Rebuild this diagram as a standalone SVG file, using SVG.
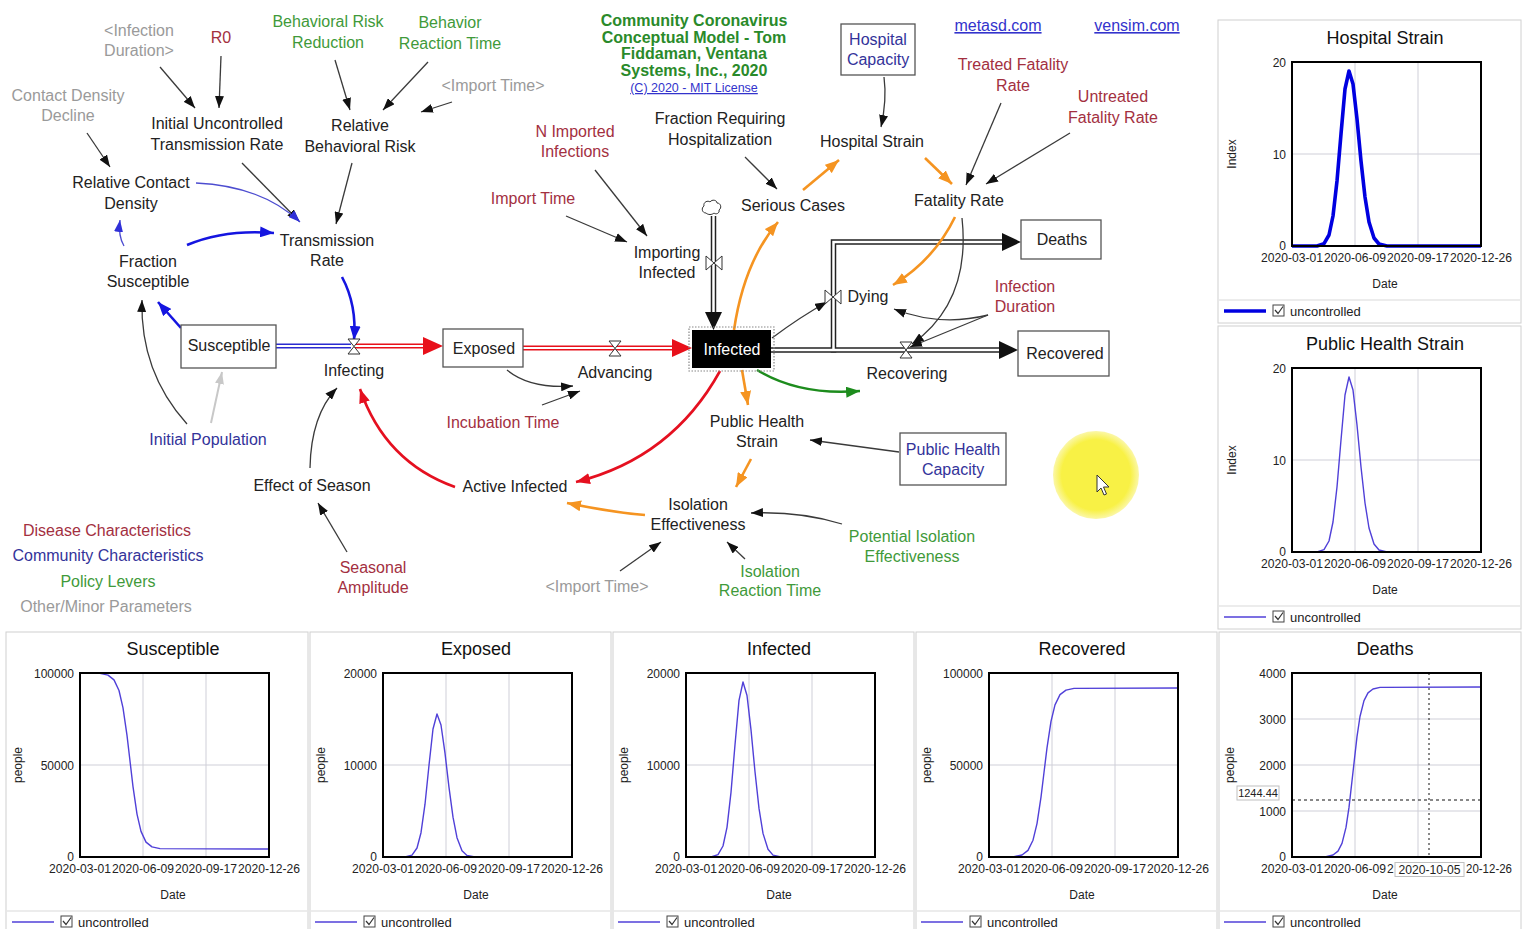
<svg xmlns="http://www.w3.org/2000/svg" width="1527" height="929" viewBox="0 0 1527 929">
<style>
text{font-family:"Liberation Sans",Arial,Helvetica,sans-serif}
.t{font-size:16px;fill:#222;text-anchor:middle}
.red{fill:#a3303f}
.grn{fill:#3f9a3a}
.blu{fill:#33339a}
.gry{fill:#9a9a9a}
.ttl{font-size:16px;font-weight:bold;fill:#2a8a2a;text-anchor:middle}
.lnk{fill:#3333cc;text-decoration:underline}
.box{fill:#fff;stroke:#555;stroke-width:1.3}
.ln{fill:none;stroke:#3a3a3a;stroke-width:1.3}
.lnb{fill:none;stroke:#1515e0;stroke-width:2.6}
.lnbt{fill:none;stroke:#4d4dd0;stroke-width:1.3}
.lnr{fill:none;stroke:#e51020;stroke-width:2.6}
.lno{fill:none;stroke:#f59421;stroke-width:2.6}
.lng{fill:none;stroke:#1d8c1d;stroke-width:2.4}
.lnl{fill:none;stroke:#c8c8c8;stroke-width:2}
.valve{fill:#fff;stroke:#333;stroke-width:1}
.panel{fill:#fff;stroke:#d0d0d0;stroke-width:1}
.sep{stroke:#e6e6e6;stroke-width:1.5}
.grid line{stroke:#cfcfd8;stroke-width:1}
.plot{fill:none;stroke:#000;stroke-width:2}
.cv{fill:none;stroke:#5040d8;stroke-width:1.4;stroke-linejoin:round}
.cvb{fill:none;stroke:#0000e0;stroke-width:3.6;stroke-linejoin:round}
.ctitle{font-size:18px;fill:#111;text-anchor:middle}
.ytk{font-size:12px;fill:#222;text-anchor:end}
.xtk{font-size:12px;fill:#222;text-anchor:middle}
.axl{font-size:12px;fill:#222;text-anchor:middle}
.lgt{font-size:13px;fill:#222}
.cb{fill:#fff;stroke:#444;stroke-width:1}
.ck{fill:none;stroke:#333;stroke-width:1.2}
</style>
<defs>
<marker id="ak" viewBox="0 0 12 9" refX="12" refY="4.5" markerWidth="12" markerHeight="9" markerUnits="userSpaceOnUse" orient="auto"><path d="M0,0L12,4.5L0,9z" fill="#111"/></marker>
<marker id="ab" viewBox="0 0 14 11" refX="14" refY="5.5" markerWidth="14" markerHeight="11" markerUnits="userSpaceOnUse" orient="auto"><path d="M0,0L14,5.5L0,11z" fill="#1515e0"/></marker>
<marker id="abt" viewBox="0 0 12 9" refX="12" refY="4.5" markerWidth="12" markerHeight="9" markerUnits="userSpaceOnUse" orient="auto"><path d="M0,0L12,4.5L0,9z" fill="#3030d8"/></marker>
<marker id="ar" viewBox="0 0 14 11" refX="14" refY="5.5" markerWidth="14" markerHeight="11" markerUnits="userSpaceOnUse" orient="auto"><path d="M0,0L14,5.5L0,11z" fill="#e51020"/></marker>
<marker id="ao" viewBox="0 0 14 11" refX="14" refY="5.5" markerWidth="14" markerHeight="11" markerUnits="userSpaceOnUse" orient="auto"><path d="M0,0L14,5.5L0,11z" fill="#f59421"/></marker>
<marker id="ag" viewBox="0 0 14 11" refX="14" refY="5.5" markerWidth="14" markerHeight="11" markerUnits="userSpaceOnUse" orient="auto"><path d="M0,0L14,5.5L0,11z" fill="#1d8c1d"/></marker>
<marker id="al" viewBox="0 0 12 9" refX="12" refY="4.5" markerWidth="12" markerHeight="9" markerUnits="userSpaceOnUse" orient="auto"><path d="M0,0L12,4.5L0,9z" fill="#c8c8c8"/></marker>
<radialGradient id="yel" cx="0.5" cy="0.5" r="0.5"><stop offset="0.8" stop-color="#f8f145"/><stop offset="1" stop-color="#fbf7a8"/></radialGradient>
</defs>
<rect x="0" y="0" width="1527" height="929" fill="#fff"/>

<!-- flows (pipes) -->
<g id="flows">
  <line x1="276" y1="346" x2="351" y2="346" stroke="#2a2ad0" stroke-width="5"/>
  <line x1="276" y1="346" x2="351" y2="346" stroke="#fff" stroke-width="2.2"/>
  <line x1="354" y1="346" x2="428" y2="346" stroke="#e8101a" stroke-width="5"/>
  <line x1="354" y1="346" x2="428" y2="346" stroke="#fff" stroke-width="2.2"/>
  <polygon points="423,337 443,346 423,355" fill="#e8101a"/>
  <line x1="523" y1="348" x2="677" y2="348" stroke="#e8101a" stroke-width="5"/>
  <line x1="523" y1="348" x2="677" y2="348" stroke="#fff" stroke-width="2.2"/>
  <polygon points="672,339 692,348 672,357" fill="#e8101a"/>
  <line x1="713.5" y1="216" x2="713.5" y2="314" stroke="#222" stroke-width="5.5"/>
  <line x1="713.5" y1="216" x2="713.5" y2="314" stroke="#fff" stroke-width="2.5"/>
  <polygon points="705,312 713.5,330 722,312" fill="#111"/>
  <line x1="771" y1="350" x2="1003" y2="350" stroke="#222" stroke-width="5.5"/>
  <path d="M833.5,352.5 V242 H1006" fill="none" stroke="#222" stroke-width="5.5"/>
  <line x1="771" y1="350" x2="1003" y2="350" stroke="#fff" stroke-width="2.5"/>
  <path d="M833.5,350 V242 H1006" fill="none" stroke="#fff" stroke-width="2.5"/>
  <polygon points="999,341 1018,350 999,359" fill="#111"/>
  <polygon points="1002,233 1021,242 1002,251" fill="#111"/>
  <path d="M706,213 c-4,0 -5,-5 -2,-7 c-1,-4 4,-6 6,-4 c2,-3 7,-2 7,1 c4,0 5,5 2,7 c1,3 -3,5 -5,3 c-2,2 -6,2 -8,0z" fill="#fff" stroke="#333" stroke-width="1"/>
</g>

<!-- connectors -->
<g id="connectors">
  <path class="ln" d="M160,67 L195,108" marker-end="url(#ak)"/>
  <path class="ln" d="M221,56 L219,108" marker-end="url(#ak)"/>
  <path class="ln" d="M87,133 L110,167" marker-end="url(#ak)"/>
  <path class="ln" d="M242,163 L299,221" marker-end="url(#ak)"/>
  <path class="lnbt" d="M196,183 Q262,186 300,222" marker-end="url(#abt)"/>
  <path class="ln" d="M335,60 L350,110" marker-end="url(#ak)"/>
  <path class="ln" d="M428,62 L383,110" marker-end="url(#ak)"/>
  <path class="ln" d="M452,102 L421,112" marker-end="url(#ak)"/>
  <path class="ln" d="M352,163 L336,224" marker-end="url(#ak)"/>
  <path class="lnbt" d="M124,246 Q118,236 120,220" stroke-width="1.6" marker-end="url(#abt)"/>
  <path class="lnb" d="M187,245 Q225,229 274,233" marker-end="url(#ab)"/>
  <path class="lnb" d="M181,328 L158,302" marker-end="url(#ab)"/>
  <path class="lnb" d="M342,277 Q357,305 354,340" marker-end="url(#ab)"/>
  <path class="ln" d="M187,424 Q140,372 142,300" marker-end="url(#ak)"/>
  <path class="lnl" d="M211,423 L222,372" marker-end="url(#al)"/>
  <path class="ln" d="M310,468 Q311,415 337,388" marker-end="url(#ak)"/>
  <path class="ln" d="M347,552 L318,503" marker-end="url(#ak)"/>
  <path class="lnr" d="M455,487 Q385,462 360,389" marker-end="url(#ar)"/>
  <path class="lnr" d="M720,371 Q672,458 576,482" stroke-width="2.2" marker-end="url(#ar)"/>
  <path class="ln" d="M507,370 Q530,389 573,386" marker-end="url(#ak)"/>
  <path class="ln" d="M542,405 L580,391" marker-end="url(#ak)"/>
  <path class="ln" d="M566,216 L627,242" marker-end="url(#ak)"/>
  <path class="ln" d="M595,170 L647,236" marker-end="url(#ak)"/>
  <path class="lno" d="M734,330 Q744,262 778,222" marker-end="url(#ao)"/>
  <path class="ln" d="M745,157 L777,189" marker-end="url(#ak)"/>
  <path class="lno" d="M803,190 L839,160" marker-end="url(#ao)"/>
  <path class="ln" d="M884,77 Q887,100 881,127" marker-end="url(#ak)"/>
  <path class="lno" d="M925,158 L952,184" marker-end="url(#ao)"/>
  <path class="ln" d="M1001,103 L966,185" marker-end="url(#ak)"/>
  <path class="ln" d="M1070,133 L986,184" marker-end="url(#ak)"/>
  <path class="lno" d="M955,217 Q934,260 893,285" marker-end="url(#ao)"/>
  <path class="ln" d="M962,218 Q971,302 912,344" marker-end="url(#ak)"/>
  <path class="ln" d="M988,315 Q940,327 894,309" marker-end="url(#ak)"/>
  <path class="ln" d="M988,315 L910,347" marker-end="url(#ak)"/>
  <path class="ln" d="M772,338 Q800,317 827,302" marker-end="url(#ak)"/>
  <path class="lng" d="M757,370 Q800,396 860,391" marker-end="url(#ag)"/>
  <path class="lno" d="M742,370 L748,405" marker-end="url(#ao)"/>
  <path class="ln" d="M899,452 L810,440" marker-end="url(#ak)"/>
  <path class="lno" d="M751,459 L736,487" marker-end="url(#ao)"/>
  <path class="lno" d="M645,515 Q610,512 567,503" marker-end="url(#ao)"/>
  <path class="ln" d="M842,524 Q800,511 751,513" marker-end="url(#ak)"/>
  <path class="ln" d="M620,571 L661,542" marker-end="url(#ak)"/>
  <path class="ln" d="M745,559 L727,542" marker-end="url(#ak)"/>
</g>

<!-- valves -->
<g id="infecting"><polygon class="valve" points="348,339 360,339 354,346.5 360,354 348,354 354,346.5"/><text class="t" x="354" y="376">Infecting</text></g>
<g id="advancing"><polygon class="valve" points="609,341 621,341 615,348.5 621,356 609,356 615,348.5"/><text class="t" x="615" y="378">Advancing</text></g>
<g id="recovering"><polygon class="valve" points="900,342 912,342 906,350 912,358 900,358 906,350"/><text class="t" x="907" y="379">Recovering</text></g>
<g id="importing-infected"><polygon class="valve" points="706,256 714,263 722,256 722,270 714,263 706,270"/><text class="t"><tspan x="667" y="258">Importing</tspan><tspan x="667" y="278">Infected</tspan></text></g>
<g id="dying"><polygon class="valve" points="825,290 833,297 841,290 841,304 833,297 825,304"/><text class="t" x="868" y="302">Dying</text></g>

<!-- stocks -->
<g id="susceptible"><rect class="box" x="181" y="325" width="95" height="43"/><text class="t" x="229" y="351">Susceptible</text></g>
<g id="exposed"><rect class="box" x="443" y="329" width="80" height="38"/><text class="t" x="484" y="354">Exposed</text></g>
<g id="infected"><rect x="689" y="327" width="85" height="44" fill="none" stroke="#888" stroke-width="1.2" stroke-dasharray="1.5,1.5"/><rect x="692" y="330" width="79" height="38" fill="#000"/><text class="t" x="732" y="355" style="fill:#fff">Infected</text></g>
<g id="deaths"><rect class="box" x="1021" y="220" width="80" height="39"/><text class="t" x="1062" y="245">Deaths</text></g>
<g id="recovered"><rect class="box" x="1018" y="331" width="91" height="45"/><text class="t" x="1065" y="359">Recovered</text></g>

<!-- variables -->
<g id="infection-duration-shadow"><text class="t gry"><tspan x="139" y="36">&lt;Infection</tspan><tspan x="139" y="56">Duration&gt;</tspan></text></g>
<g id="r0"><text class="t red" x="221" y="43">R0</text></g>
<g id="behavioral-risk-reduction"><text class="t grn"><tspan x="328" y="27">Behavioral Risk</tspan><tspan x="328" y="48">Reduction</tspan></text></g>
<g id="behavior-reaction-time"><text class="t grn"><tspan x="450" y="28">Behavior</tspan><tspan x="450" y="49">Reaction Time</tspan></text></g>
<g id="import-time-shadow-1"><text class="t gry" x="493" y="91">&lt;Import Time&gt;</text></g>
<g id="contact-density-decline"><text class="t gry"><tspan x="68" y="101">Contact Density</tspan><tspan x="68" y="121">Decline</tspan></text></g>
<g id="initial-uncontrolled-transmission-rate"><text class="t"><tspan x="217" y="129">Initial Uncontrolled</tspan><tspan x="217" y="150">Transmission Rate</tspan></text></g>
<g id="relative-behavioral-risk"><text class="t"><tspan x="360" y="131">Relative</tspan><tspan x="360" y="152">Behavioral Risk</tspan></text></g>
<g id="relative-contact-density"><text class="t"><tspan x="131" y="188">Relative Contact</tspan><tspan x="131" y="209">Density</tspan></text></g>
<g id="fraction-susceptible"><text class="t"><tspan x="148" y="267">Fraction</tspan><tspan x="148" y="287">Susceptible</tspan></text></g>
<g id="transmission-rate"><text class="t"><tspan x="327" y="246">Transmission</tspan><tspan x="327" y="266">Rate</tspan></text></g>
<g id="incubation-time"><text class="t red" x="503" y="428">Incubation Time</text></g>
<g id="initial-population"><text class="t blu" x="208" y="445">Initial Population</text></g>
<g id="effect-of-season"><text class="t" x="312" y="491">Effect of Season</text></g>
<g id="active-infected"><text class="t" x="515" y="492">Active Infected</text></g>
<g id="seasonal-amplitude"><text class="t red"><tspan x="373" y="573">Seasonal</tspan><tspan x="373" y="593">Amplitude</tspan></text></g>
<g id="legend">
  <text class="t red" x="107" y="536">Disease Characteristics</text>
  <text class="t blu" x="108" y="561">Community Characteristics</text>
  <text class="t grn" x="108" y="587">Policy Levers</text>
  <text class="t gry" x="106" y="612">Other/Minor Parameters</text>
</g>
<g id="title"><text class="ttl"><tspan x="694" y="26">Community Coronavirus</tspan><tspan x="694" y="43">Conceptual Model - Tom</tspan><tspan x="694" y="59">Fiddaman, Ventana</tspan><tspan x="694" y="76">Systems, Inc., 2020</tspan></text>
<text class="lnk" x="694" y="92" font-size="12.5" text-anchor="middle">(C) 2020 - MIT License</text></g>
<g id="links"><text class="t lnk" x="998" y="31">metasd.com</text><text class="t lnk" x="1137" y="31">vensim.com</text></g>
<g id="n-imported-infections"><text class="t red"><tspan x="575" y="137">N Imported</tspan><tspan x="575" y="157">Infections</tspan></text></g>
<g id="fraction-requiring-hospitalization"><text class="t"><tspan x="720" y="124">Fraction Requiring</tspan><tspan x="720" y="145">Hospitalization</tspan></text></g>
<g id="hospital-strain"><text class="t" x="872" y="147">Hospital Strain</text></g>
<g id="hospital-capacity"><rect class="box" x="841" y="24" width="74" height="51"/><text class="t blu"><tspan x="878" y="45">Hospital</tspan><tspan x="878" y="65">Capacity</tspan></text></g>
<g id="treated-fatality-rate"><text class="t red"><tspan x="1013" y="70">Treated Fatality</tspan><tspan x="1013" y="91">Rate</tspan></text></g>
<g id="untreated-fatality-rate"><text class="t red"><tspan x="1113" y="102">Untreated</tspan><tspan x="1113" y="123">Fatality Rate</tspan></text></g>
<g id="import-time"><text class="t red" x="533" y="204">Import Time</text></g>
<g id="serious-cases"><text class="t" x="793" y="211">Serious Cases</text></g>
<g id="fatality-rate"><text class="t" x="959" y="206">Fatality Rate</text></g>
<g id="infection-duration"><text class="t red"><tspan x="1025" y="292">Infection</tspan><tspan x="1025" y="312">Duration</tspan></text></g>
<g id="public-health-strain"><text class="t"><tspan x="757" y="427">Public Health</tspan><tspan x="757" y="447">Strain</tspan></text></g>
<g id="public-health-capacity"><rect class="box" x="900" y="433" width="106" height="52"/><text class="t blu"><tspan x="953" y="455">Public Health</tspan><tspan x="953" y="475">Capacity</tspan></text></g>
<g id="isolation-effectiveness"><text class="t"><tspan x="698" y="510">Isolation</tspan><tspan x="698" y="530">Effectiveness</tspan></text></g>
<g id="potential-isolation-effectiveness"><text class="t grn"><tspan x="912" y="542">Potential Isolation</tspan><tspan x="912" y="562">Effectiveness</tspan></text></g>
<g id="import-time-shadow-2"><text class="t gry" x="597" y="592">&lt;Import Time&gt;</text></g>
<g id="isolation-reaction-time"><text class="t grn"><tspan x="770" y="577">Isolation</tspan><tspan x="770" y="596">Reaction Time</tspan></text></g>

<g id="cursor-highlight">
  <ellipse cx="1096" cy="475" rx="43" ry="44" fill="url(#yel)"/>
  <polygon points="1097,475 1097,492 1101,488 1104,495 1106.5,494 1103.5,487 1109,487" fill="#fff" stroke="#333" stroke-width="1"/>
</g>

<!-- charts -->
<g id="chart-hospital-strain" transform="translate(1292,62)">
  <rect class="panel" x="-74" y="-42" width="303" height="303"/>
  <line class="sep" x1="-73" y1="238" x2="228" y2="238"/>
  <text class="ctitle" x="93" y="-18">Hospital Strain</text>
  <g class="grid"><line x1="63" y1="0" x2="63" y2="184"/><line x1="126" y1="0" x2="126" y2="184"/><line x1="0" y1="92" x2="189" y2="92"/></g>
  <polyline class="cvb" points="0,184 25,184 32,181.7 37,173 41,154 45,119 49,72 53,27 57,9 61,22 65,57 69,99 73,135 77,160 82,176 87,182 95,184 189,184"/>
  <rect class="plot" x="0" y="0" width="189" height="184"/>
  <text class="ytk" x="-6" y="5">20</text><text class="ytk" x="-6" y="96.5">10</text><text class="ytk" x="-6" y="188">0</text>
  <text class="xtk" x="0" y="200" textLength="62" lengthAdjust="spacingAndGlyphs">2020-03-01</text>
  <text class="xtk" x="63" y="200" textLength="62" lengthAdjust="spacingAndGlyphs">2020-06-09</text>
  <text class="xtk" x="126" y="200" textLength="62" lengthAdjust="spacingAndGlyphs">2020-09-17</text>
  <text class="xtk" x="189" y="200" textLength="62" lengthAdjust="spacingAndGlyphs">2020-12-26</text>
  <text class="axl" x="93" y="226">Date</text>
  <text class="axl" transform="translate(-56,92) rotate(-90)">Index</text>
  <line x1="-68" y1="249" x2="-26" y2="249" stroke="#0000e0" stroke-width="3.6"/>
  <rect class="cb" x="-19" y="243" width="11" height="11"/><path class="ck" d="M-17,248 l3,3.5 l5,-7"/>
  <text class="lgt" x="-2" y="254">uncontrolled</text>
</g>

<g id="chart-public-health-strain" transform="translate(1292,368)">
  <rect class="panel" x="-74" y="-42" width="303" height="303"/>
  <line class="sep" x1="-73" y1="238" x2="228" y2="238"/>
  <text class="ctitle" x="93" y="-18">Public Health Strain</text>
  <g class="grid"><line x1="63" y1="0" x2="63" y2="184"/><line x1="126" y1="0" x2="126" y2="184"/><line x1="0" y1="92" x2="189" y2="92"/></g>
  <polyline class="cv" points="0,184 25,184 32,181.7 37,173 41,154 45,119 49,72 53,27 57,9 61,22 65,57 69,99 73,135 77,160 82,176 87,182 95,184 189,184"/>
  <rect class="plot" x="0" y="0" width="189" height="184"/>
  <text class="ytk" x="-6" y="5">20</text><text class="ytk" x="-6" y="96.5">10</text><text class="ytk" x="-6" y="188">0</text>
  <text class="xtk" x="0" y="200" textLength="62" lengthAdjust="spacingAndGlyphs">2020-03-01</text>
  <text class="xtk" x="63" y="200" textLength="62" lengthAdjust="spacingAndGlyphs">2020-06-09</text>
  <text class="xtk" x="126" y="200" textLength="62" lengthAdjust="spacingAndGlyphs">2020-09-17</text>
  <text class="xtk" x="189" y="200" textLength="62" lengthAdjust="spacingAndGlyphs">2020-12-26</text>
  <text class="axl" x="93" y="226">Date</text>
  <text class="axl" transform="translate(-56,92) rotate(-90)">Index</text>
  <line x1="-68" y1="249" x2="-26" y2="249" stroke="#5040d8" stroke-width="1.6"/>
  <rect class="cb" x="-19" y="243" width="11" height="11"/><path class="ck" d="M-17,248 l3,3.5 l5,-7"/>
  <text class="lgt" x="-2" y="254">uncontrolled</text>
</g>

<g id="chart-susceptible" transform="translate(80,673)">
  <rect class="panel" x="-74" y="-41" width="302" height="303"/>
  <line class="sep" x1="-73" y1="238" x2="227" y2="238"/>
  <text class="ctitle" x="93" y="-18">Susceptible</text>
  <g class="grid"><line x1="63" y1="0" x2="63" y2="184"/><line x1="126" y1="0" x2="126" y2="184"/><line x1="0" y1="92" x2="189" y2="92"/></g>
  <polyline class="cv" points="0,0 20,0.4 28,2.1 34,6.9 39,17.5 43,34.8 47,62.4 50,88 53,113.6 57,141.1 61,158.4 66,169.1 72,173.9 80,175.6 189,176"/>
  <rect class="plot" x="0" y="0" width="189" height="184"/>
  <text class="ytk" x="-6" y="5">100000</text><text class="ytk" x="-6" y="96.5">50000</text><text class="ytk" x="-6" y="188">0</text>
  <text class="xtk" x="0" y="200" textLength="62" lengthAdjust="spacingAndGlyphs">2020-03-01</text>
  <text class="xtk" x="63" y="200" textLength="62" lengthAdjust="spacingAndGlyphs">2020-06-09</text>
  <text class="xtk" x="126" y="200" textLength="62" lengthAdjust="spacingAndGlyphs">2020-09-17</text>
  <text class="xtk" x="189" y="200" textLength="62" lengthAdjust="spacingAndGlyphs">2020-12-26</text>
  <text class="axl" x="93" y="226">Date</text>
  <text class="axl" transform="translate(-58,92) rotate(-90)">people</text>
  <line x1="-68" y1="249" x2="-26" y2="249" stroke="#5040d8" stroke-width="1.6"/>
  <rect class="cb" x="-19" y="243" width="11" height="11"/><path class="ck" d="M-17,248 l3,3.5 l5,-7"/>
  <text class="lgt" x="-2" y="254">uncontrolled</text>
</g>

<g id="chart-exposed" transform="translate(383,673)">
  <rect class="panel" x="-73" y="-41" width="301" height="303"/>
  <line class="sep" x1="-72" y1="238" x2="227" y2="238"/>
  <text class="ctitle" x="93" y="-18">Exposed</text>
  <g class="grid"><line x1="63" y1="0" x2="63" y2="184"/><line x1="126" y1="0" x2="126" y2="184"/><line x1="0" y1="92" x2="189" y2="92"/></g>
  <polyline class="cv" points="0,184 22,184 29,182.1 34,175 38,159.7 42,131.2 46,92.2 50,56 54,41 58,52 62,80.2 66,114.4 70,144.2 74,164.7 79,177.7 84,182.4 92,184 189,184"/>
  <rect class="plot" x="0" y="0" width="189" height="184"/>
  <text class="ytk" x="-6" y="5">20000</text><text class="ytk" x="-6" y="96.5">10000</text><text class="ytk" x="-6" y="188">0</text>
  <text class="xtk" x="0" y="200" textLength="62" lengthAdjust="spacingAndGlyphs">2020-03-01</text>
  <text class="xtk" x="63" y="200" textLength="62" lengthAdjust="spacingAndGlyphs">2020-06-09</text>
  <text class="xtk" x="126" y="200" textLength="62" lengthAdjust="spacingAndGlyphs">2020-09-17</text>
  <text class="xtk" x="189" y="200" textLength="62" lengthAdjust="spacingAndGlyphs">2020-12-26</text>
  <text class="axl" x="93" y="226">Date</text>
  <text class="axl" transform="translate(-58,92) rotate(-90)">people</text>
  <line x1="-68" y1="249" x2="-26" y2="249" stroke="#5040d8" stroke-width="1.6"/>
  <rect class="cb" x="-19" y="243" width="11" height="11"/><path class="ck" d="M-17,248 l3,3.5 l5,-7"/>
  <text class="lgt" x="-2" y="254">uncontrolled</text>
</g>

<g id="chart-infected" transform="translate(686,673)">
  <rect class="panel" x="-73" y="-41" width="301" height="303"/>
  <line class="sep" x1="-72" y1="238" x2="227" y2="238"/>
  <text class="ctitle" x="93" y="-18">Infected</text>
  <g class="grid"><line x1="63" y1="0" x2="63" y2="184"/><line x1="126" y1="0" x2="126" y2="184"/><line x1="0" y1="92" x2="189" y2="92"/></g>
  <polyline class="cv" points="0,184 25,184 32,181.7 37,173 41,154.3 45,119.4 49,71.7 53,27.4 57,9 61,22.5 65,56.9 69,98.8 73,135.4 77,160.4 82,176.3 87,182.1 95,184 189,184"/>
  <rect class="plot" x="0" y="0" width="189" height="184"/>
  <text class="ytk" x="-6" y="5">20000</text><text class="ytk" x="-6" y="96.5">10000</text><text class="ytk" x="-6" y="188">0</text>
  <text class="xtk" x="0" y="200" textLength="62" lengthAdjust="spacingAndGlyphs">2020-03-01</text>
  <text class="xtk" x="63" y="200" textLength="62" lengthAdjust="spacingAndGlyphs">2020-06-09</text>
  <text class="xtk" x="126" y="200" textLength="62" lengthAdjust="spacingAndGlyphs">2020-09-17</text>
  <text class="xtk" x="189" y="200" textLength="62" lengthAdjust="spacingAndGlyphs">2020-12-26</text>
  <text class="axl" x="93" y="226">Date</text>
  <text class="axl" transform="translate(-58,92) rotate(-90)">people</text>
  <line x1="-68" y1="249" x2="-26" y2="249" stroke="#5040d8" stroke-width="1.6"/>
  <rect class="cb" x="-19" y="243" width="11" height="11"/><path class="ck" d="M-17,248 l3,3.5 l5,-7"/>
  <text class="lgt" x="-2" y="254">uncontrolled</text>
</g>

<g id="chart-recovered" transform="translate(989,673)">
  <rect class="panel" x="-73" y="-41" width="301" height="303"/>
  <line class="sep" x1="-72" y1="238" x2="227" y2="238"/>
  <text class="ctitle" x="93" y="-18">Recovered</text>
  <g class="grid"><line x1="63" y1="0" x2="63" y2="184"/><line x1="126" y1="0" x2="126" y2="184"/><line x1="0" y1="92" x2="189" y2="92"/></g>
  <polyline class="cv" points="0,184 25,183.6 33,182 39,177.4 44,167.2 48,150.6 52,124.1 55,99.5 58,74.9 62,48.4 66,31.9 71,21.6 77,17.1 85,15.4 189,15"/>
  <rect class="plot" x="0" y="0" width="189" height="184"/>
  <text class="ytk" x="-6" y="5">100000</text><text class="ytk" x="-6" y="96.5">50000</text><text class="ytk" x="-6" y="188">0</text>
  <text class="xtk" x="0" y="200" textLength="62" lengthAdjust="spacingAndGlyphs">2020-03-01</text>
  <text class="xtk" x="63" y="200" textLength="62" lengthAdjust="spacingAndGlyphs">2020-06-09</text>
  <text class="xtk" x="126" y="200" textLength="62" lengthAdjust="spacingAndGlyphs">2020-09-17</text>
  <text class="xtk" x="189" y="200" textLength="62" lengthAdjust="spacingAndGlyphs">2020-12-26</text>
  <text class="axl" x="93" y="226">Date</text>
  <text class="axl" transform="translate(-58,92) rotate(-90)">people</text>
  <line x1="-68" y1="249" x2="-26" y2="249" stroke="#5040d8" stroke-width="1.6"/>
  <rect class="cb" x="-19" y="243" width="11" height="11"/><path class="ck" d="M-17,248 l3,3.5 l5,-7"/>
  <text class="lgt" x="-2" y="254">uncontrolled</text>
</g>

<g id="chart-deaths" transform="translate(1292,673)">
  <rect class="panel" x="-73" y="-41" width="302" height="303"/>
  <line class="sep" x1="-72" y1="238" x2="228" y2="238"/>
  <text class="ctitle" x="93" y="-18">Deaths</text>
  <g class="grid"><line x1="63" y1="0" x2="63" y2="184"/><line x1="126" y1="0" x2="126" y2="184"/><line x1="0" y1="46" x2="189" y2="46"/><line x1="0" y1="92" x2="189" y2="92"/><line x1="0" y1="138" x2="189" y2="138"/></g>
  <polyline class="cv" points="0,184 34,183.6 41,182 46,178.1 50,170.4 54,154.4 57,134.4 61,99 65,63.6 68,43.5 72,27.6 76,19.9 81,16 88,14.4 189,14"/>
  <line x1="137" y1="0" x2="137" y2="184" stroke="#111" stroke-width="1" stroke-dasharray="2,3"/>
  <line x1="0" y1="127" x2="189" y2="127" stroke="#111" stroke-width="1" stroke-dasharray="3,3"/>
  <rect class="plot" x="0" y="0" width="189" height="184"/>
  <text class="ytk" x="-6" y="5">4000</text><text class="ytk" x="-6" y="51">3000</text><text class="ytk" x="-6" y="96.5">2000</text><text class="ytk" x="-6" y="142.5">1000</text><text class="ytk" x="-6" y="188">0</text>
  <rect x="-55" y="113" width="42" height="14" fill="#fff" stroke="#c0c0c0" stroke-width="1"/>
  <text x="-34" y="124" font-size="11" fill="#222" text-anchor="middle">1244.44</text>
  <text class="xtk" x="0" y="200" textLength="62" lengthAdjust="spacingAndGlyphs">2020-03-01</text>
  <text class="xtk" x="63" y="200" textLength="62" lengthAdjust="spacingAndGlyphs">2020-06-09</text>
  <text x="95" y="200" font-size="12" fill="#222">2</text>
  <text x="220" y="200" font-size="12" fill="#222" text-anchor="end" textLength="46" lengthAdjust="spacingAndGlyphs">20-12-26</text>
  <rect x="103" y="189.5" width="69" height="14" fill="#fff" stroke="#c0c0c0" stroke-width="1"/>
  <text class="xtk" x="137.5" y="200.5" textLength="62" lengthAdjust="spacingAndGlyphs">2020-10-05</text>
  <text class="axl" x="93" y="226">Date</text>
  <text class="axl" transform="translate(-58,92) rotate(-90)">people</text>
  <line x1="-68" y1="249" x2="-26" y2="249" stroke="#5040d8" stroke-width="1.6"/>
  <rect class="cb" x="-19" y="243" width="11" height="11"/><path class="ck" d="M-17,248 l3,3.5 l5,-7"/>
  <text class="lgt" x="-2" y="254">uncontrolled</text>
</g>
</svg>
